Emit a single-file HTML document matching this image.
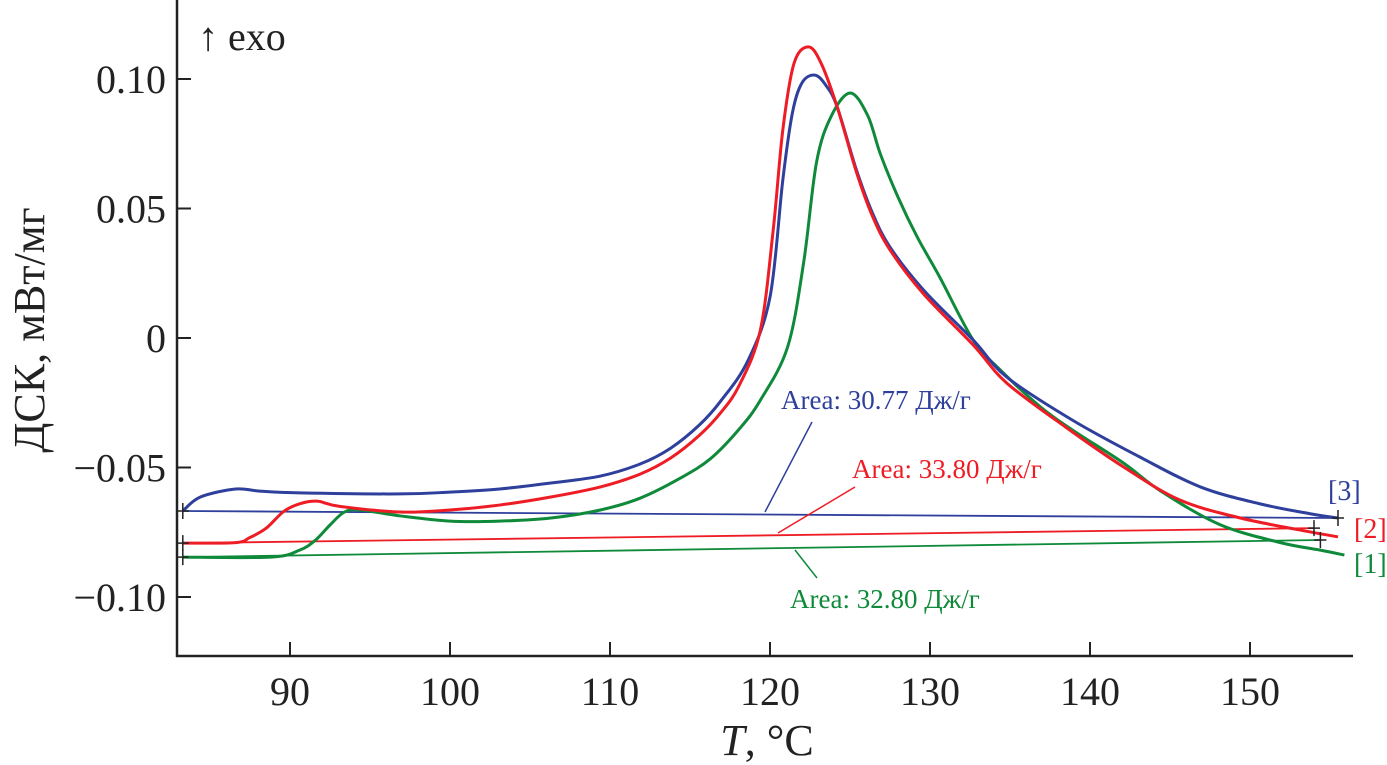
<!DOCTYPE html>
<html><head><meta charset="utf-8"><style>
html,body{margin:0;padding:0;background:#fff;}
svg{display:block;font-family:"Liberation Serif",serif;}
</style></head><body>
<svg id="chart" width="1387" height="765" viewBox="0 0 1387 765"></svg>
<script>
const xTicks=[90,100,110,120,130,140,150];
const yTicks=[0.10,0.05,0,-0.05,-0.10];
const yTickLabels=["0.10","0.05","0","\u22120.05","\u22120.10"];
const blueT=[83.3,84.4,86.6,88.1,90.6,96.9,100,103.1,106.3,109.4,111.9,113.8,115.6,116.9,118.6,120.0,120.8,121.4,122.0,122.8,123.5,124.2,125.4,126.4,127.5,129.6,132.7,134.8,138.9,143.1,146.9,150.6,153.8,155.5];
const blueV=[-0.0668,-0.0614,-0.0583,-0.0591,-0.0598,-0.0602,-0.0595,-0.0583,-0.0560,-0.0533,-0.0486,-0.0425,-0.0335,-0.0245,-0.0090,0.0158,0.0610,0.0869,0.0985,0.1015,0.0975,0.0892,0.0649,0.0483,0.0351,0.0185,-0.0008,-0.0151,-0.0317,-0.0459,-0.0575,-0.0640,-0.0679,-0.0695];
const redT=[83.3,86.6,87.5,88.5,89.6,90.6,91.7,93.1,96.9,100,103.1,106.3,109.4,111.9,113.8,115.6,116.9,118.1,119.4,120.2,120.8,121.5,122.4,123.2,124.2,125.4,126.4,127.5,129.6,132.7,134.8,138.5,142.1,145.6,149.4,153.1,155.5];
const redV=[-0.0792,-0.0790,-0.0770,-0.0735,-0.0670,-0.0640,-0.0630,-0.0650,-0.0672,-0.0664,-0.0645,-0.0614,-0.0575,-0.0525,-0.0463,-0.0375,-0.0290,-0.0180,0.0031,0.0417,0.0803,0.1060,0.1124,0.1060,0.0892,0.0641,0.0471,0.0340,0.0170,-0.0027,-0.0174,-0.0345,-0.0498,-0.0625,-0.0695,-0.0741,-0.0768];
const greenT=[83.3,88.8,90.6,91.6,92.5,93.4,94.4,96.9,100,103.1,106.3,109.4,111.9,114.4,116.3,118.1,119.4,121.1,122.1,122.9,123.8,125.0,126.1,126.9,128.0,129.2,130.6,132.7,134.4,136.9,138.9,142.1,144.4,148.1,151.9,154.4,155.9];
const greenV=[-0.0846,-0.0846,-0.0819,-0.0780,-0.0722,-0.0672,-0.0664,-0.0687,-0.0707,-0.0707,-0.0695,-0.0664,-0.0618,-0.0541,-0.0465,-0.0350,-0.0240,-0.0035,0.0290,0.0676,0.0853,0.0946,0.0860,0.0710,0.0544,0.0390,0.0236,-0.0008,-0.0124,-0.0266,-0.0355,-0.0483,-0.0590,-0.0720,-0.0790,-0.0819,-0.0838];
const blueBaseT=[83.3,155.5], blueBaseV=[-0.0668,-0.0695];
const redBaseT=[83.3,154.0], redBaseV=[-0.0792,-0.0734];
const greenBaseT=[83.3,154.4], greenBaseV=[-0.0846,-0.0780];

const X=t=>178+(t-83)*16;
const Y=v=>338-v*2590;
const NS="http://www.w3.org/2000/svg";
const svg=document.getElementById('chart');
function mk(tag,attrs,parent){const e=document.createElementNS(NS,tag);for(const k in attrs)e.setAttribute(k,attrs[k]);(parent||svg).appendChild(e);return e;}
function txt(s,attrs){const e=mk('text',attrs);e.textContent=s;return e;}

let e=mk('line',{x1:177,y1:0,x2:177,y2:657,stroke:'#222','stroke-width':2.5});


e=mk('line',{x1:176,y1:656,x2:1353,y2:656,stroke:'#222','stroke-width':2.5});


xTicks.forEach(t=>{
  let l=mk('line',{x1:X(t),y1:656,x2:X(t),y2:642,stroke:'#222','stroke-width':2});
  
  
  let s=txt(String(t),{x:X(t),y:705,'font-size':40,'text-anchor':'middle',fill:'#222'});
  
  
});
yTicks.forEach((v,i)=>{
  let l=mk('line',{x1:177,y1:Y(v),x2:191,y2:Y(v),stroke:'#222','stroke-width':2});
  
  
  let s=txt(yTickLabels[i],{x:166,y:Y(v)+14,'font-size':40,'text-anchor':'end',fill:'#222'});
  
  
});
e=txt('ДСК, мВт/мг',{x:0,y:0,'font-size':44,'text-anchor':'middle',fill:'#222',transform:'translate(44,330) rotate(-90)'});


e=mk('text',{x:767,y:755,'font-size':44,'text-anchor':'middle',fill:'#222'});
e.innerHTML='<tspan font-style="italic">T</tspan>, °C';


e=txt('↑ exo',{x:198,y:50,'font-size':40,fill:'#222'});



function smoothPath(T,V){
  const P=T.map((t,i)=>[X(t),Y(V[i])]);
  let d='M'+P[0][0]+','+P[0][1];
  for(let i=0;i<P.length-1;i++){
    const p0=P[Math.max(0,i-1)],p1=P[i],p2=P[i+1],p3=P[Math.min(P.length-1,i+2)];
    const k=1/6;
    d+=` C${p1[0]+(p2[0]-p0[0])*k},${p1[1]+(p2[1]-p0[1])*k} ${p2[0]-(p3[0]-p1[0])*k},${p2[1]-(p3[1]-p1[1])*k} ${p2[0]},${p2[1]}`;
  }
  return d;
}
function curve(T,V,color,w,name){
  const p=mk('path',{d:smoothPath(T,V),fill:'none',stroke:color,'stroke-width':w,'stroke-linejoin':'round'});
  
  
}
function poly(T,V,color,w,name){
  const p=mk('polyline',{points:T.map((t,i)=>X(t)+','+Y(V[i])).join(' '),fill:'none',stroke:color,'stroke-width':w});
  
  
}
const B='#2e3f9c',R='#ee1c24',G='#0f8a3a';
poly(blueBaseT,blueBaseV,B,1.8,'baseline-3');
poly(redBaseT,redBaseV,R,1.8,'baseline-2');
poly(greenBaseT,greenBaseV,G,1.8,'baseline-1');
curve(greenT,greenV,G,3,'curve-1');
curve(blueT,blueV,B,3,'curve-3');
curve(redT,redV,R,3,'curve-2');

[[83.3,-0.0668],[83.3,-0.0792],[83.3,-0.0846],[155.5,-0.0695],[154.0,-0.0734],[154.4,-0.0780]].forEach(p=>{
  let m=mk('path',{d:`M${X(p[0])-6},${Y(p[1])}h12M${X(p[0])},${Y(p[1])-8}v16`,stroke:'#222','stroke-width':1.5});
  
  
});

function lead(x1,y1,x2,y2,c,name){const l=mk('line',{x1,y1,x2,y2,stroke:c,'stroke-width':1.5});}
lead(765,512,812,422,B,'area-3-leader');
lead(778,533,855,487,R,'area-2-leader');
lead(795,550,817,578,G,'area-1-leader');
e=txt('Area: 30.77 Дж/г',{x:781,y:409,'font-size':27,fill:B});


e=txt('Area: 33.80 Дж/г',{x:852,y:478,'font-size':27,fill:R});


e=txt('Area: 32.80 Дж/г',{x:790,y:608,'font-size':27,fill:G});


e=txt('[3]',{x:1328,y:500,'font-size':28,fill:B});


e=txt('[2]',{x:1354,y:538,'font-size':28,fill:R});


e=txt('[1]',{x:1354,y:573,'font-size':28,fill:G});


</script>
</body></html>
